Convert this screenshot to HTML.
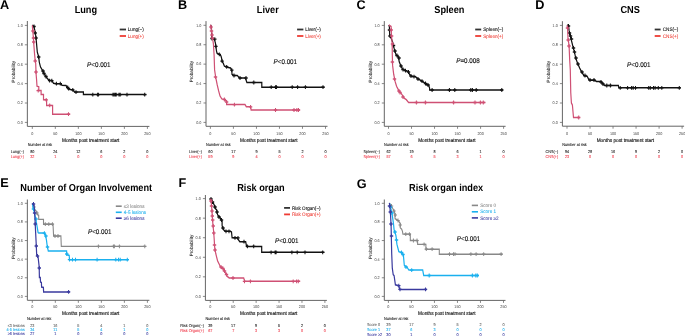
<!DOCTYPE html>
<html><head><meta charset="utf-8"><style>
html,body{margin:0;padding:0;background:#fff;width:685px;height:336px;overflow:hidden}
svg{display:block;will-change:transform;text-rendering:geometricPrecision;font-family:"Liberation Sans", sans-serif}
</style></head><body>
<svg width="685" height="336" viewBox="0 0 685 336">
<rect width="685" height="336" fill="#fff"/>
<path d="M27.35,21.00V126.40H149.40" stroke="#656565" stroke-width="1" fill="none"/>
<text transform="translate(22.75,123.75) scale(0.9091,1)" font-size="4.18" fill="#444" text-anchor="end" >0.0</text>
<text transform="translate(22.75,104.35) scale(0.9091,1)" font-size="4.18" fill="#444" text-anchor="end" >0.2</text>
<text transform="translate(22.75,84.95) scale(0.9091,1)" font-size="4.18" fill="#444" text-anchor="end" >0.4</text>
<text transform="translate(22.75,65.55) scale(0.9091,1)" font-size="4.18" fill="#444" text-anchor="end" >0.6</text>
<text transform="translate(22.75,46.15) scale(0.9091,1)" font-size="4.18" fill="#444" text-anchor="end" >0.8</text>
<text transform="translate(22.75,26.75) scale(0.9091,1)" font-size="4.18" fill="#444" text-anchor="end" >1.0</text>
<text transform="translate(32.30,134.60) scale(0.9091,1)" font-size="4.18" fill="#444" text-anchor="middle" >0</text>
<text transform="translate(55.32,134.60) scale(0.9091,1)" font-size="4.18" fill="#444" text-anchor="middle" >50</text>
<text transform="translate(78.34,134.60) scale(0.9091,1)" font-size="4.18" fill="#444" text-anchor="middle" >100</text>
<text transform="translate(101.36,134.60) scale(0.9091,1)" font-size="4.18" fill="#444" text-anchor="middle" >150</text>
<text transform="translate(124.38,134.60) scale(0.9091,1)" font-size="4.18" fill="#444" text-anchor="middle" >200</text>
<text transform="translate(147.40,134.60) scale(0.9091,1)" font-size="4.18" fill="#444" text-anchor="middle" >250</text>
<path d="M24.85,122.40H27.35M24.85,103.00H27.35M24.85,83.60H27.35M24.85,64.20H27.35M24.85,44.80H27.35M24.85,25.40H27.35M32.30,126.40V128.90M55.32,126.40V128.90M78.34,126.40V128.90M101.36,126.40V128.90M124.38,126.40V128.90M147.40,126.40V128.90" stroke="#6a6a6a" stroke-width="0.8" fill="none"/>
<text transform="translate(90.70,141.50) scale(0.9091,1)" font-size="5.19" fill="#111" text-anchor="middle" stroke="#111" stroke-width="0.143" >Months post treatment start</text>
<text x="0" y="0" font-size="4.6" fill="#222" stroke="#222" stroke-width="0.08" text-anchor="middle" transform="translate(14.75,71.70) rotate(-90)">Probability</text>
<text transform="translate(27.70,146.10) scale(0.9091,1)" font-size="4.15" fill="#111" stroke="#111" stroke-width="0.077" >Number at risk</text>
<text transform="translate(23.90,153.10) scale(0.9091,1)" font-size="4.18" fill="#222" text-anchor="end" stroke="#222" stroke-width="0.077" >Lung(−)</text>
<text transform="translate(32.30,153.10) scale(0.9091,1)" font-size="4.18" fill="#222" text-anchor="middle" stroke="#222" stroke-width="0.077" >80</text>
<text transform="translate(55.32,153.10) scale(0.9091,1)" font-size="4.18" fill="#222" text-anchor="middle" stroke="#222" stroke-width="0.077" >24</text>
<text transform="translate(78.34,153.10) scale(0.9091,1)" font-size="4.18" fill="#222" text-anchor="middle" stroke="#222" stroke-width="0.077" >12</text>
<text transform="translate(101.36,153.10) scale(0.9091,1)" font-size="4.18" fill="#222" text-anchor="middle" stroke="#222" stroke-width="0.077" >6</text>
<text transform="translate(124.38,153.10) scale(0.9091,1)" font-size="4.18" fill="#222" text-anchor="middle" stroke="#222" stroke-width="0.077" >2</text>
<text transform="translate(147.40,153.10) scale(0.9091,1)" font-size="4.18" fill="#222" text-anchor="middle" stroke="#222" stroke-width="0.077" >0</text>
<text transform="translate(23.90,157.60) scale(0.9091,1)" font-size="4.18" fill="#f03a4a" text-anchor="end" stroke="#f03a4a" stroke-width="0.077" >Lung(+)</text>
<text transform="translate(32.30,157.60) scale(0.9091,1)" font-size="4.18" fill="#f03a4a" text-anchor="middle" stroke="#f03a4a" stroke-width="0.077" >32</text>
<text transform="translate(55.32,157.60) scale(0.9091,1)" font-size="4.18" fill="#f03a4a" text-anchor="middle" stroke="#f03a4a" stroke-width="0.077" >1</text>
<text transform="translate(78.34,157.60) scale(0.9091,1)" font-size="4.18" fill="#f03a4a" text-anchor="middle" stroke="#f03a4a" stroke-width="0.077" >0</text>
<text transform="translate(101.36,157.60) scale(0.9091,1)" font-size="4.18" fill="#f03a4a" text-anchor="middle" stroke="#f03a4a" stroke-width="0.077" >0</text>
<text transform="translate(124.38,157.60) scale(0.9091,1)" font-size="4.18" fill="#f03a4a" text-anchor="middle" stroke="#f03a4a" stroke-width="0.077" >0</text>
<text transform="translate(147.40,157.60) scale(0.9091,1)" font-size="4.18" fill="#f03a4a" text-anchor="middle" stroke="#f03a4a" stroke-width="0.077" >0</text>
<line x1="119.70" y1="29.50" x2="126.00" y2="29.50" stroke="#333" stroke-width="1.8"/>
<text transform="translate(127.80,31.10) scale(0.9091,1)" font-size="5.06" fill="#222" stroke="#222" stroke-width="0.132" >Lung(−)</text>
<line x1="119.70" y1="36.00" x2="126.00" y2="36.00" stroke="#ee3b33" stroke-width="1.8"/>
<text transform="translate(127.80,37.60) scale(0.9091,1)" font-size="5.06" fill="#ee3b33" stroke="#ee3b33" stroke-width="0.066" >Lung(+)</text>
<polyline points="40.37,25.20 42.50,26.50 43.88,31.90 44.62,35.50 45.37,40.80 46.62,52.10 48.38,56.90 49.12,62.10 50.62,67.00 52.75,69.90 54.38,72.50 57.00,76.10 59.12,78.40 61.50,80.60 64.75,80.60 66.88,83.30 70.50,83.70 75.37,83.70 77.50,85.20 82.50,85.60 84.62,87.50 87.38,89.60 91.00,89.80 93.12,92.10 104.25,92.10 104.25,94.60 182.88,94.60" fill="none" stroke="#111" stroke-width="1.5" stroke-linejoin="miter" transform="scale(0.8,1)"/>
<path d="M42.50,24.60V28.40M40.37,26.50H44.62M44.00,31.10V34.90M41.88,33.00H46.13M45.00,36.10V39.90M42.87,38.00H47.12M48.38,55.10V58.90M46.25,57.00H50.50M53.75,69.10V72.90M51.62,71.00H55.88M55.00,71.60V75.40M52.87,73.50H57.12M57.50,74.60V78.40M55.37,76.50H59.62M62.00,78.70V82.50M59.87,80.60H64.12M64.75,78.70V82.50M62.62,80.60H66.88M70.50,81.80V85.60M68.37,83.70H72.62M75.37,81.80V85.60M73.25,83.70H77.50M84.62,85.60V89.40M82.50,87.50H86.75M85.75,86.70V90.50M83.62,88.60H87.87M91.00,87.90V91.70M88.87,89.80H93.12M95.00,90.20V94.00M92.87,92.10H97.12M116.00,92.70V96.50M113.87,94.60H118.12M122.00,92.70V96.50M119.87,94.60H124.12M123.00,92.70V96.50M120.88,94.60H125.12M141.25,92.70V96.50M139.12,94.60H143.38M142.75,92.70V96.50M140.62,94.60H144.88M144.25,92.70V96.50M142.12,94.60H146.38M145.25,92.70V96.50M143.12,94.60H147.38M148.75,92.70V96.50M146.62,94.60H150.88M150.25,92.70V96.50M148.12,94.60H152.38M158.75,92.70V96.50M156.62,94.60H160.87M180.87,92.70V96.50M178.75,94.60H183.00" stroke="#111" stroke-width="1.3" fill="none" transform="scale(0.8,1)"/>
<polyline points="40.37,25.40 41.25,33.00 42.12,42.60 43.12,53.30 43.88,60.00 44.62,63.30 45.12,74.00 45.75,80.00 46.25,86.20 48.50,86.80 48.50,90.60 51.38,90.60 51.38,94.50 54.38,94.50 54.38,99.80 58.25,99.80 58.25,105.40 65.75,105.40 65.75,114.15 87.62,114.15" fill="none" stroke="#cf5074" stroke-width="1.5" stroke-linejoin="miter" transform="scale(0.8,1)"/>
<path d="M41.25,29.10V32.90M39.12,31.00H43.38M41.88,36.10V39.90M39.75,38.00H44.00M42.12,40.10V43.90M40.00,42.00H44.25M44.00,59.10V62.90M41.88,61.00H46.13M45.00,70.10V73.90M42.87,72.00H47.12M47.75,88.70V92.50M45.62,90.60H49.88M57.75,97.90V101.70M55.62,99.80H59.88M62.12,103.50V107.30M60.00,105.40H64.25M85.62,112.25V116.05M83.50,114.15H87.75" stroke="#cf5074" stroke-width="1.3" fill="none" transform="scale(0.8,1)"/>
<text transform="translate(0.00,9.20) scale(1.0000,1)" font-size="12.70" fill="#000" font-weight="bold" >A</text>
<text transform="translate(85.85,12.70) scale(0.9091,1)" font-size="10.12" fill="#000" text-anchor="middle" font-weight="bold" >Lung</text>
<text transform="translate(87.10,66.80) scale(0.9091,1)" font-size="6.88" fill="#111" stroke="#111" stroke-width="0.13"><tspan font-style="italic">P</tspan>&lt;0.001</text>
<path d="M206.00,21.10V126.30H327.50" stroke="#656565" stroke-width="1" fill="none"/>
<text transform="translate(201.40,123.75) scale(0.9091,1)" font-size="4.18" fill="#444" text-anchor="end" >0.0</text>
<text transform="translate(201.40,104.33) scale(0.9091,1)" font-size="4.18" fill="#444" text-anchor="end" >0.2</text>
<text transform="translate(201.40,84.91) scale(0.9091,1)" font-size="4.18" fill="#444" text-anchor="end" >0.4</text>
<text transform="translate(201.40,65.49) scale(0.9091,1)" font-size="4.18" fill="#444" text-anchor="end" >0.6</text>
<text transform="translate(201.40,46.07) scale(0.9091,1)" font-size="4.18" fill="#444" text-anchor="end" >0.8</text>
<text transform="translate(201.40,26.65) scale(0.9091,1)" font-size="4.18" fill="#444" text-anchor="end" >1.0</text>
<text transform="translate(210.40,134.60) scale(0.9091,1)" font-size="4.18" fill="#444" text-anchor="middle" >0</text>
<text transform="translate(233.42,134.60) scale(0.9091,1)" font-size="4.18" fill="#444" text-anchor="middle" >50</text>
<text transform="translate(256.44,134.60) scale(0.9091,1)" font-size="4.18" fill="#444" text-anchor="middle" >100</text>
<text transform="translate(279.46,134.60) scale(0.9091,1)" font-size="4.18" fill="#444" text-anchor="middle" >150</text>
<text transform="translate(302.48,134.60) scale(0.9091,1)" font-size="4.18" fill="#444" text-anchor="middle" >200</text>
<text transform="translate(325.50,134.60) scale(0.9091,1)" font-size="4.18" fill="#444" text-anchor="middle" >250</text>
<path d="M203.50,122.40H206.00M203.50,102.98H206.00M203.50,83.56H206.00M203.50,64.14H206.00M203.50,44.72H206.00M203.50,25.30H206.00M210.40,126.30V128.80M233.42,126.30V128.80M256.44,126.30V128.80M279.46,126.30V128.80M302.48,126.30V128.80M325.50,126.30V128.80" stroke="#6a6a6a" stroke-width="0.8" fill="none"/>
<text transform="translate(268.80,141.50) scale(0.9091,1)" font-size="5.19" fill="#111" text-anchor="middle" stroke="#111" stroke-width="0.143" >Months post treatment start</text>
<text x="0" y="0" font-size="4.6" fill="#222" stroke="#222" stroke-width="0.08" text-anchor="middle" transform="translate(193.40,71.65) rotate(-90)">Probability</text>
<text transform="translate(206.10,146.10) scale(0.9091,1)" font-size="4.15" fill="#111" stroke="#111" stroke-width="0.077" >Number at risk</text>
<text transform="translate(201.90,153.10) scale(0.9091,1)" font-size="4.18" fill="#222" text-anchor="end" stroke="#222" stroke-width="0.077" >Liver(−)</text>
<text transform="translate(210.40,153.10) scale(0.9091,1)" font-size="4.18" fill="#222" text-anchor="middle" stroke="#222" stroke-width="0.077" >60</text>
<text transform="translate(233.42,153.10) scale(0.9091,1)" font-size="4.18" fill="#222" text-anchor="middle" stroke="#222" stroke-width="0.077" >17</text>
<text transform="translate(256.44,153.10) scale(0.9091,1)" font-size="4.18" fill="#222" text-anchor="middle" stroke="#222" stroke-width="0.077" >9</text>
<text transform="translate(279.46,153.10) scale(0.9091,1)" font-size="4.18" fill="#222" text-anchor="middle" stroke="#222" stroke-width="0.077" >5</text>
<text transform="translate(302.48,153.10) scale(0.9091,1)" font-size="4.18" fill="#222" text-anchor="middle" stroke="#222" stroke-width="0.077" >2</text>
<text transform="translate(325.50,153.10) scale(0.9091,1)" font-size="4.18" fill="#222" text-anchor="middle" stroke="#222" stroke-width="0.077" >0</text>
<text transform="translate(201.90,157.60) scale(0.9091,1)" font-size="4.18" fill="#f03a4a" text-anchor="end" stroke="#f03a4a" stroke-width="0.077" >Liver(+)</text>
<text transform="translate(210.40,157.60) scale(0.9091,1)" font-size="4.18" fill="#f03a4a" text-anchor="middle" stroke="#f03a4a" stroke-width="0.077" >59</text>
<text transform="translate(233.42,157.60) scale(0.9091,1)" font-size="4.18" fill="#f03a4a" text-anchor="middle" stroke="#f03a4a" stroke-width="0.077" >9</text>
<text transform="translate(256.44,157.60) scale(0.9091,1)" font-size="4.18" fill="#f03a4a" text-anchor="middle" stroke="#f03a4a" stroke-width="0.077" >4</text>
<text transform="translate(279.46,157.60) scale(0.9091,1)" font-size="4.18" fill="#f03a4a" text-anchor="middle" stroke="#f03a4a" stroke-width="0.077" >0</text>
<text transform="translate(302.48,157.60) scale(0.9091,1)" font-size="4.18" fill="#f03a4a" text-anchor="middle" stroke="#f03a4a" stroke-width="0.077" >0</text>
<text transform="translate(325.50,157.60) scale(0.9091,1)" font-size="4.18" fill="#f03a4a" text-anchor="middle" stroke="#f03a4a" stroke-width="0.077" >0</text>
<line x1="297.10" y1="29.50" x2="303.40" y2="29.50" stroke="#333" stroke-width="1.8"/>
<text transform="translate(305.20,31.10) scale(0.9091,1)" font-size="5.06" fill="#222" stroke="#222" stroke-width="0.132" >Liver(−)</text>
<line x1="297.10" y1="36.00" x2="303.40" y2="36.00" stroke="#ee3b33" stroke-width="1.8"/>
<text transform="translate(305.20,37.60) scale(0.9091,1)" font-size="5.06" fill="#ee3b33" stroke="#ee3b33" stroke-width="0.066" >Liver(+)</text>
<polyline points="263.12,24.80 264.25,26.50 264.62,37.90 267.88,39.00 269.25,43.00 269.88,46.40 270.62,51.00 271.25,53.20 274.12,54.40 276.25,56.00 277.00,58.30 277.62,61.10 279.12,63.40 280.50,66.20 283.37,66.80 285.50,67.40 288.25,68.00 289.75,70.20 290.00,74.30 291.88,75.50 296.62,75.50 299.38,78.10 306.75,78.10 308.62,82.50 327.25,82.50 327.25,87.20 405.62,87.20" fill="none" stroke="#111" stroke-width="1.5" stroke-linejoin="miter" transform="scale(0.8,1)"/>
<path d="M265.00,36.60V40.40M262.88,38.50H267.12M268.50,37.20V41.00M266.38,39.10H270.62M269.88,44.50V48.30M267.75,46.40H272.00M274.12,52.50V56.30M272.00,54.40H276.25M277.62,59.20V63.00M275.50,61.10H279.75M283.37,64.90V68.70M281.25,66.80H285.50M289.75,68.30V72.10M287.62,70.20H291.88M292.50,73.60V77.40M290.38,75.50H294.62M300.00,76.10V79.90M297.88,78.00H302.12M307.50,76.10V79.90M305.38,78.00H309.62M317.25,80.60V84.40M315.12,82.50H319.38M339.00,85.30V89.10M336.88,87.20H341.12M344.38,85.30V89.10M342.25,87.20H346.50M345.62,85.30V89.10M343.50,87.20H347.75M365.25,85.30V89.10M363.12,87.20H367.37M372.00,85.30V89.10M369.88,87.20H374.12M381.75,85.30V89.10M379.62,87.20H383.87M403.75,85.30V89.10M401.62,87.20H405.87" stroke="#111" stroke-width="1.3" fill="none" transform="scale(0.8,1)"/>
<polyline points="263.12,24.80 264.25,29.50 265.62,37.90 266.75,43.80 267.62,55.00 268.25,69.90 269.62,77.30 271.50,84.80 273.25,90.70 275.00,95.90 277.25,98.90 280.50,99.40 283.25,101.10 283.25,104.60 306.25,104.60 307.88,106.80 313.25,106.80 313.88,110.00 375.00,110.00" fill="none" stroke="#cf5074" stroke-width="1.5" stroke-linejoin="miter" transform="scale(0.8,1)"/>
<path d="M263.75,25.10V28.90M261.62,27.00H265.87M264.38,29.10V32.90M262.25,31.00H266.50M265.00,33.10V36.90M262.88,35.00H267.12M265.62,36.10V39.90M263.50,38.00H267.75M269.38,75.10V78.90M267.25,77.00H271.50M280.50,97.60V101.40M278.38,99.50H282.62M283.25,100.10V103.90M281.12,102.00H285.37M293.00,102.70V106.50M290.88,104.60H295.12M313.25,104.90V108.70M311.12,106.80H315.37M344.38,108.10V111.90M342.25,110.00H346.50M367.50,108.10V111.90M365.38,110.00H369.62M371.12,108.10V111.90M369.00,110.00H373.25M373.12,108.10V111.90M371.00,110.00H375.25" stroke="#cf5074" stroke-width="1.3" fill="none" transform="scale(0.8,1)"/>
<text transform="translate(177.90,9.20) scale(1.0000,1)" font-size="12.70" fill="#000" font-weight="bold" >B</text>
<text transform="translate(267.80,12.70) scale(0.9091,1)" font-size="10.12" fill="#000" text-anchor="middle" font-weight="bold" >Liver</text>
<text transform="translate(273.60,63.80) scale(0.9091,1)" font-size="6.88" fill="#111" stroke="#111" stroke-width="0.13"><tspan font-style="italic">P</tspan>&lt;0.001</text>
<path d="M384.30,21.10V126.30H505.60" stroke="#656565" stroke-width="1" fill="none"/>
<text transform="translate(379.70,123.75) scale(0.9091,1)" font-size="4.18" fill="#444" text-anchor="end" >0.0</text>
<text transform="translate(379.70,104.35) scale(0.9091,1)" font-size="4.18" fill="#444" text-anchor="end" >0.2</text>
<text transform="translate(379.70,84.95) scale(0.9091,1)" font-size="4.18" fill="#444" text-anchor="end" >0.4</text>
<text transform="translate(379.70,65.55) scale(0.9091,1)" font-size="4.18" fill="#444" text-anchor="end" >0.6</text>
<text transform="translate(379.70,46.15) scale(0.9091,1)" font-size="4.18" fill="#444" text-anchor="end" >0.8</text>
<text transform="translate(379.70,26.75) scale(0.9091,1)" font-size="4.18" fill="#444" text-anchor="end" >1.0</text>
<text transform="translate(388.50,134.60) scale(0.9091,1)" font-size="4.18" fill="#444" text-anchor="middle" >0</text>
<text transform="translate(411.52,134.60) scale(0.9091,1)" font-size="4.18" fill="#444" text-anchor="middle" >50</text>
<text transform="translate(434.54,134.60) scale(0.9091,1)" font-size="4.18" fill="#444" text-anchor="middle" >100</text>
<text transform="translate(457.56,134.60) scale(0.9091,1)" font-size="4.18" fill="#444" text-anchor="middle" >150</text>
<text transform="translate(480.58,134.60) scale(0.9091,1)" font-size="4.18" fill="#444" text-anchor="middle" >200</text>
<text transform="translate(503.60,134.60) scale(0.9091,1)" font-size="4.18" fill="#444" text-anchor="middle" >250</text>
<path d="M381.80,122.40H384.30M381.80,103.00H384.30M381.80,83.60H384.30M381.80,64.20H384.30M381.80,44.80H384.30M381.80,25.40H384.30M388.50,126.30V128.80M411.52,126.30V128.80M434.54,126.30V128.80M457.56,126.30V128.80M480.58,126.30V128.80M503.60,126.30V128.80" stroke="#6a6a6a" stroke-width="0.8" fill="none"/>
<text transform="translate(446.90,141.50) scale(0.9091,1)" font-size="5.19" fill="#111" text-anchor="middle" stroke="#111" stroke-width="0.143" >Months post treatment start</text>
<text x="0" y="0" font-size="4.6" fill="#222" stroke="#222" stroke-width="0.08" text-anchor="middle" transform="translate(371.70,71.70) rotate(-90)">Probability</text>
<text transform="translate(384.10,146.10) scale(0.9091,1)" font-size="4.15" fill="#111" stroke="#111" stroke-width="0.077" >Number at risk</text>
<text transform="translate(380.00,153.10) scale(0.9091,1)" font-size="4.18" fill="#222" text-anchor="end" stroke="#222" stroke-width="0.077" >Spleen(−)</text>
<text transform="translate(388.50,153.10) scale(0.9091,1)" font-size="4.18" fill="#222" text-anchor="middle" stroke="#222" stroke-width="0.077" >62</text>
<text transform="translate(411.52,153.10) scale(0.9091,1)" font-size="4.18" fill="#222" text-anchor="middle" stroke="#222" stroke-width="0.077" >19</text>
<text transform="translate(434.54,153.10) scale(0.9091,1)" font-size="4.18" fill="#222" text-anchor="middle" stroke="#222" stroke-width="0.077" >8</text>
<text transform="translate(457.56,153.10) scale(0.9091,1)" font-size="4.18" fill="#222" text-anchor="middle" stroke="#222" stroke-width="0.077" >6</text>
<text transform="translate(480.58,153.10) scale(0.9091,1)" font-size="4.18" fill="#222" text-anchor="middle" stroke="#222" stroke-width="0.077" >1</text>
<text transform="translate(503.60,153.10) scale(0.9091,1)" font-size="4.18" fill="#222" text-anchor="middle" stroke="#222" stroke-width="0.077" >0</text>
<text transform="translate(380.00,157.60) scale(0.9091,1)" font-size="4.18" fill="#f03a4a" text-anchor="end" stroke="#f03a4a" stroke-width="0.077" >Spleen(+)</text>
<text transform="translate(388.50,157.60) scale(0.9091,1)" font-size="4.18" fill="#f03a4a" text-anchor="middle" stroke="#f03a4a" stroke-width="0.077" >57</text>
<text transform="translate(411.52,157.60) scale(0.9091,1)" font-size="4.18" fill="#f03a4a" text-anchor="middle" stroke="#f03a4a" stroke-width="0.077" >6</text>
<text transform="translate(434.54,157.60) scale(0.9091,1)" font-size="4.18" fill="#f03a4a" text-anchor="middle" stroke="#f03a4a" stroke-width="0.077" >5</text>
<text transform="translate(457.56,157.60) scale(0.9091,1)" font-size="4.18" fill="#f03a4a" text-anchor="middle" stroke="#f03a4a" stroke-width="0.077" >3</text>
<text transform="translate(480.58,157.60) scale(0.9091,1)" font-size="4.18" fill="#f03a4a" text-anchor="middle" stroke="#f03a4a" stroke-width="0.077" >1</text>
<text transform="translate(503.60,157.60) scale(0.9091,1)" font-size="4.18" fill="#f03a4a" text-anchor="middle" stroke="#f03a4a" stroke-width="0.077" >0</text>
<line x1="475.20" y1="29.50" x2="481.20" y2="29.50" stroke="#333" stroke-width="1.8"/>
<text transform="translate(483.20,31.10) scale(0.9091,1)" font-size="5.06" fill="#222" stroke="#222" stroke-width="0.132" >Spleen(−)</text>
<line x1="475.20" y1="36.00" x2="481.20" y2="36.00" stroke="#ee3b33" stroke-width="1.8"/>
<text transform="translate(483.20,37.60) scale(0.9091,1)" font-size="5.06" fill="#ee3b33" stroke="#ee3b33" stroke-width="0.066" >Spleen(+)</text>
<polyline points="486.00,25.00 486.75,27.10 487.12,35.50 488.75,38.00 491.00,42.40 491.88,45.60 493.00,49.60 495.00,54.50 498.00,56.90 499.00,61.70 501.00,65.70 503.00,68.90 506.12,70.50 510.00,71.30 512.12,74.60 515.12,76.60 519.12,76.60 522.12,78.60 527.12,81.00 530.25,82.60 532.88,84.50 535.75,85.00 537.00,88.20 537.00,90.00 628.75,90.00" fill="none" stroke="#111" stroke-width="1.5" stroke-linejoin="miter" transform="scale(0.8,1)"/>
<path d="M486.88,28.10V31.90M484.75,30.00H489.00M487.50,34.10V37.90M485.38,36.00H489.62M491.88,43.60V47.40M489.75,45.50H494.00M493.75,49.10V52.90M491.62,51.00H495.87M496.25,53.60V57.40M494.12,55.50H498.37M498.75,56.10V59.90M496.62,58.00H500.87M501.25,64.10V67.90M499.12,66.00H503.37M503.75,67.60V71.40M501.62,69.50H505.87M506.88,68.80V72.60M504.75,70.70H509.00M510.62,70.10V73.90M508.50,72.00H512.75M513.75,74.10V77.90M511.62,76.00H515.88M517.50,74.70V78.50M515.38,76.60H519.62M522.50,77.10V80.90M520.38,79.00H524.62M527.50,79.30V83.10M525.38,81.20H529.62M531.88,81.60V85.40M529.75,83.50H534.00M535.00,83.10V86.90M532.88,85.00H537.12M540.12,88.10V91.90M538.00,90.00H542.25M561.75,88.10V91.90M559.62,90.00H563.87M568.50,88.10V91.90M566.38,90.00H570.62M588.50,88.10V91.90M586.38,90.00H590.62M590.50,88.10V91.90M588.38,90.00H592.62M595.25,88.10V91.90M593.12,90.00H597.37M627.25,88.10V91.90M625.12,90.00H629.38" stroke="#111" stroke-width="1.3" fill="none" transform="scale(0.8,1)"/>
<polyline points="486.00,25.00 488.88,26.50 489.25,34.30 490.25,44.00 490.38,55.00 490.75,65.40 492.12,74.30 494.00,81.80 495.75,86.30 498.62,90.70 502.37,94.40 505.12,98.20 507.88,99.60 510.75,102.50 606.88,102.50" fill="none" stroke="#cf5074" stroke-width="1.5" stroke-linejoin="miter" transform="scale(0.8,1)"/>
<path d="M489.00,28.10V31.90M486.88,30.00H491.12M489.50,34.10V37.90M487.38,36.00H491.62M490.62,42.10V45.90M488.50,44.00H492.75M490.50,60.10V63.90M488.37,62.00H492.62M493.12,77.10V80.90M491.00,79.00H495.25M498.75,89.10V92.90M496.62,91.00H500.87M500.00,90.60V94.40M497.88,92.50H502.12M503.75,95.10V98.90M501.62,97.00H505.87M520.50,100.60V104.40M518.38,102.50H522.62M531.75,100.60V104.40M529.62,102.50H533.87M567.00,100.60V104.40M564.88,102.50H569.12M593.75,100.60V104.40M591.62,102.50H595.88M600.50,100.60V104.40M598.38,102.50H602.62M604.12,100.60V104.40M602.00,102.50H606.25" stroke="#cf5074" stroke-width="1.3" fill="none" transform="scale(0.8,1)"/>
<text transform="translate(356.60,9.20) scale(1.0000,1)" font-size="12.70" fill="#000" font-weight="bold" >C</text>
<text transform="translate(449.35,12.70) scale(0.9091,1)" font-size="10.12" fill="#000" text-anchor="middle" font-weight="bold" >Spleen</text>
<text transform="translate(456.25,62.60) scale(0.9091,1)" font-size="6.88" fill="#111" stroke="#111" stroke-width="0.13"><tspan font-style="italic">P</tspan>=0.008</text>
<path d="M562.40,21.20V126.20H684.10" stroke="#656565" stroke-width="1" fill="none"/>
<text transform="translate(557.80,123.75) scale(0.9091,1)" font-size="4.18" fill="#444" text-anchor="end" >0.0</text>
<text transform="translate(557.80,104.35) scale(0.9091,1)" font-size="4.18" fill="#444" text-anchor="end" >0.2</text>
<text transform="translate(557.80,84.95) scale(0.9091,1)" font-size="4.18" fill="#444" text-anchor="end" >0.4</text>
<text transform="translate(557.80,65.55) scale(0.9091,1)" font-size="4.18" fill="#444" text-anchor="end" >0.6</text>
<text transform="translate(557.80,46.15) scale(0.9091,1)" font-size="4.18" fill="#444" text-anchor="end" >0.8</text>
<text transform="translate(557.80,26.75) scale(0.9091,1)" font-size="4.18" fill="#444" text-anchor="end" >1.0</text>
<text transform="translate(567.00,134.60) scale(0.9091,1)" font-size="4.18" fill="#444" text-anchor="middle" >0</text>
<text transform="translate(590.02,134.60) scale(0.9091,1)" font-size="4.18" fill="#444" text-anchor="middle" >50</text>
<text transform="translate(613.04,134.60) scale(0.9091,1)" font-size="4.18" fill="#444" text-anchor="middle" >100</text>
<text transform="translate(636.06,134.60) scale(0.9091,1)" font-size="4.18" fill="#444" text-anchor="middle" >150</text>
<text transform="translate(659.08,134.60) scale(0.9091,1)" font-size="4.18" fill="#444" text-anchor="middle" >200</text>
<text transform="translate(682.10,134.60) scale(0.9091,1)" font-size="4.18" fill="#444" text-anchor="middle" >250</text>
<path d="M559.90,122.40H562.40M559.90,103.00H562.40M559.90,83.60H562.40M559.90,64.20H562.40M559.90,44.80H562.40M559.90,25.40H562.40M567.00,126.20V128.70M590.02,126.20V128.70M613.04,126.20V128.70M636.06,126.20V128.70M659.08,126.20V128.70M682.10,126.20V128.70" stroke="#6a6a6a" stroke-width="0.8" fill="none"/>
<text transform="translate(625.40,141.50) scale(0.9091,1)" font-size="5.19" fill="#111" text-anchor="middle" stroke="#111" stroke-width="0.143" >Months post treatment start</text>
<text x="0" y="0" font-size="4.6" fill="#222" stroke="#222" stroke-width="0.08" text-anchor="middle" transform="translate(549.80,71.70) rotate(-90)">Probability</text>
<text transform="translate(562.20,146.10) scale(0.9091,1)" font-size="4.15" fill="#111" stroke="#111" stroke-width="0.077" >Number at risk</text>
<text transform="translate(558.30,153.10) scale(0.9091,1)" font-size="4.18" fill="#222" text-anchor="end" stroke="#222" stroke-width="0.077" >CNS(−)</text>
<text transform="translate(567.00,153.10) scale(0.9091,1)" font-size="4.18" fill="#222" text-anchor="middle" stroke="#222" stroke-width="0.077" >94</text>
<text transform="translate(590.02,153.10) scale(0.9091,1)" font-size="4.18" fill="#222" text-anchor="middle" stroke="#222" stroke-width="0.077" >28</text>
<text transform="translate(613.04,153.10) scale(0.9091,1)" font-size="4.18" fill="#222" text-anchor="middle" stroke="#222" stroke-width="0.077" >16</text>
<text transform="translate(636.06,153.10) scale(0.9091,1)" font-size="4.18" fill="#222" text-anchor="middle" stroke="#222" stroke-width="0.077" >9</text>
<text transform="translate(659.08,153.10) scale(0.9091,1)" font-size="4.18" fill="#222" text-anchor="middle" stroke="#222" stroke-width="0.077" >2</text>
<text transform="translate(682.10,153.10) scale(0.9091,1)" font-size="4.18" fill="#222" text-anchor="middle" stroke="#222" stroke-width="0.077" >0</text>
<text transform="translate(558.30,157.60) scale(0.9091,1)" font-size="4.18" fill="#f03a4a" text-anchor="end" stroke="#f03a4a" stroke-width="0.077" >CNS(+)</text>
<text transform="translate(567.00,157.60) scale(0.9091,1)" font-size="4.18" fill="#f03a4a" text-anchor="middle" stroke="#f03a4a" stroke-width="0.077" >23</text>
<text transform="translate(590.02,157.60) scale(0.9091,1)" font-size="4.18" fill="#f03a4a" text-anchor="middle" stroke="#f03a4a" stroke-width="0.077" >0</text>
<text transform="translate(613.04,157.60) scale(0.9091,1)" font-size="4.18" fill="#f03a4a" text-anchor="middle" stroke="#f03a4a" stroke-width="0.077" >0</text>
<text transform="translate(636.06,157.60) scale(0.9091,1)" font-size="4.18" fill="#f03a4a" text-anchor="middle" stroke="#f03a4a" stroke-width="0.077" >0</text>
<text transform="translate(659.08,157.60) scale(0.9091,1)" font-size="4.18" fill="#f03a4a" text-anchor="middle" stroke="#f03a4a" stroke-width="0.077" >0</text>
<text transform="translate(682.10,157.60) scale(0.9091,1)" font-size="4.18" fill="#f03a4a" text-anchor="middle" stroke="#f03a4a" stroke-width="0.077" >0</text>
<line x1="654.70" y1="29.50" x2="660.60" y2="29.50" stroke="#333" stroke-width="1.8"/>
<text transform="translate(662.80,31.10) scale(0.9091,1)" font-size="5.06" fill="#222" stroke="#222" stroke-width="0.132" >CNS(−)</text>
<line x1="654.70" y1="36.00" x2="660.60" y2="36.00" stroke="#ee3b33" stroke-width="1.8"/>
<text transform="translate(662.80,37.60) scale(0.9091,1)" font-size="5.06" fill="#ee3b33" stroke="#ee3b33" stroke-width="0.066" >CNS(+)</text>
<polyline points="709.25,24.80 710.62,25.40 711.38,30.70 712.87,35.50 714.38,40.80 716.62,48.00 718.12,52.10 719.62,58.10 722.00,63.30 724.62,68.10 726.62,71.25 730.00,75.70 733.88,76.20 736.12,79.70 739.50,80.20 742.87,80.00 745.62,81.50 751.25,81.50 755.75,85.50 773.00,85.50 773.50,87.80 850.75,87.80" fill="none" stroke="#111" stroke-width="1.5" stroke-linejoin="miter" transform="scale(0.8,1)"/>
<path d="M710.62,24.10V27.90M708.50,26.00H712.75M711.88,31.10V34.90M709.75,33.00H714.00M713.12,34.10V37.90M711.00,36.00H715.25M714.38,37.10V40.90M712.25,39.00H716.50M716.88,46.10V49.90M714.75,48.00H719.00M718.12,50.10V53.90M716.00,52.00H720.25M720.00,56.10V59.90M717.87,58.00H722.12M722.50,62.10V65.90M720.37,64.00H724.62M727.50,70.10V73.90M725.37,72.00H729.62M731.25,73.60V77.40M729.12,75.50H733.38M737.50,78.10V81.90M735.37,80.00H739.62M742.50,78.10V81.90M740.37,80.00H744.62M751.25,80.10V83.90M749.12,82.00H753.38M753.75,82.10V85.90M751.62,84.00H755.88M758.50,83.60V87.40M756.37,85.50H760.62M763.00,83.60V87.40M760.87,85.50H765.12M775.25,85.90V89.70M773.12,87.80H777.38M784.50,85.90V89.70M782.37,87.80H786.62M789.50,85.90V89.70M787.37,87.80H791.62M791.50,85.90V89.70M789.38,87.80H793.63M794.38,85.90V89.70M792.25,87.80H796.50M810.88,85.90V89.70M808.75,87.80H813.00M812.87,85.90V89.70M810.75,87.80H815.00M816.88,85.90V89.70M814.75,87.80H819.00M818.88,85.90V89.70M816.75,87.80H821.00M822.87,85.90V89.70M820.75,87.80H825.00M827.25,85.90V89.70M825.12,87.80H829.38M849.12,85.90V89.70M847.00,87.80H851.25" stroke="#111" stroke-width="1.3" fill="none" transform="scale(0.8,1)"/>
<polyline points="709.25,25.40 710.00,37.90 711.38,46.20 712.12,60.00 712.87,70.00 713.44,92.50 714.25,102.90 715.50,105.00 716.88,117.50 724.62,117.50" fill="none" stroke="#cf5074" stroke-width="1.5" stroke-linejoin="miter" transform="scale(0.8,1)"/>
<path d="M709.38,26.10V29.90M707.25,28.00H711.50M710.25,38.10V41.90M708.12,40.00H712.38M711.25,44.10V47.90M709.12,46.00H713.38M723.38,115.60V119.40M721.25,117.50H725.50" stroke="#cf5074" stroke-width="1.3" fill="none" transform="scale(0.8,1)"/>
<text transform="translate(535.30,8.90) scale(1.0000,1)" font-size="12.70" fill="#000" font-weight="bold" >D</text>
<text transform="translate(630.10,12.70) scale(0.9091,1)" font-size="10.12" fill="#000" text-anchor="middle" font-weight="bold" >CNS</text>
<text transform="translate(627.10,66.60) scale(0.9091,1)" font-size="6.88" fill="#111" stroke="#111" stroke-width="0.13"><tspan font-style="italic">P</tspan>&lt;0.001</text>
<path d="M27.35,199.50V300.30H149.40" stroke="#656565" stroke-width="1" fill="none"/>
<text transform="translate(22.75,297.75) scale(0.9091,1)" font-size="4.18" fill="#444" text-anchor="end" >0.0</text>
<text transform="translate(22.75,279.13) scale(0.9091,1)" font-size="4.18" fill="#444" text-anchor="end" >0.2</text>
<text transform="translate(22.75,260.51) scale(0.9091,1)" font-size="4.18" fill="#444" text-anchor="end" >0.4</text>
<text transform="translate(22.75,241.89) scale(0.9091,1)" font-size="4.18" fill="#444" text-anchor="end" >0.6</text>
<text transform="translate(22.75,223.27) scale(0.9091,1)" font-size="4.18" fill="#444" text-anchor="end" >0.8</text>
<text transform="translate(22.75,204.65) scale(0.9091,1)" font-size="4.18" fill="#444" text-anchor="end" >1.0</text>
<text transform="translate(32.30,308.15) scale(0.9091,1)" font-size="4.18" fill="#444" text-anchor="middle" >0</text>
<text transform="translate(55.32,308.15) scale(0.9091,1)" font-size="4.18" fill="#444" text-anchor="middle" >50</text>
<text transform="translate(78.34,308.15) scale(0.9091,1)" font-size="4.18" fill="#444" text-anchor="middle" >100</text>
<text transform="translate(101.36,308.15) scale(0.9091,1)" font-size="4.18" fill="#444" text-anchor="middle" >150</text>
<text transform="translate(124.38,308.15) scale(0.9091,1)" font-size="4.18" fill="#444" text-anchor="middle" >200</text>
<text transform="translate(147.40,308.15) scale(0.9091,1)" font-size="4.18" fill="#444" text-anchor="middle" >250</text>
<path d="M24.85,296.40H27.35M24.85,277.78H27.35M24.85,259.16H27.35M24.85,240.54H27.35M24.85,221.92H27.35M24.85,203.30H27.35M32.30,300.30V302.80M55.32,300.30V302.80M78.34,300.30V302.80M101.36,300.30V302.80M124.38,300.30V302.80M147.40,300.30V302.80" stroke="#6a6a6a" stroke-width="0.8" fill="none"/>
<text transform="translate(90.70,314.80) scale(0.9091,1)" font-size="5.19" fill="#111" text-anchor="middle" stroke="#111" stroke-width="0.143" >Months post treatment start</text>
<text x="0" y="0" font-size="4.6" fill="#222" stroke="#222" stroke-width="0.08" text-anchor="middle" transform="translate(14.75,248.25) rotate(-90)">Probability</text>
<text transform="translate(26.90,319.90) scale(0.9091,1)" font-size="4.15" fill="#111" stroke="#111" stroke-width="0.077" >Number at risk</text>
<text transform="translate(24.70,326.70) scale(0.9091,1)" font-size="4.18" fill="#666" text-anchor="end" stroke="#666" stroke-width="0.077" >≤3 lesions</text>
<text transform="translate(32.30,326.70) scale(0.9091,1)" font-size="4.18" fill="#666" text-anchor="middle" stroke="#666" stroke-width="0.077" >23</text>
<text transform="translate(55.32,326.70) scale(0.9091,1)" font-size="4.18" fill="#666" text-anchor="middle" stroke="#666" stroke-width="0.077" >16</text>
<text transform="translate(78.34,326.70) scale(0.9091,1)" font-size="4.18" fill="#666" text-anchor="middle" stroke="#666" stroke-width="0.077" >5</text>
<text transform="translate(101.36,326.70) scale(0.9091,1)" font-size="4.18" fill="#666" text-anchor="middle" stroke="#666" stroke-width="0.077" >4</text>
<text transform="translate(124.38,326.70) scale(0.9091,1)" font-size="4.18" fill="#666" text-anchor="middle" stroke="#666" stroke-width="0.077" >1</text>
<text transform="translate(147.40,326.70) scale(0.9091,1)" font-size="4.18" fill="#666" text-anchor="middle" stroke="#666" stroke-width="0.077" >0</text>
<text transform="translate(24.70,330.80) scale(0.9091,1)" font-size="4.18" fill="#1ab0ee" text-anchor="end" stroke="#1ab0ee" stroke-width="0.077" >4-5 lesions</text>
<text transform="translate(32.30,330.80) scale(0.9091,1)" font-size="4.18" fill="#1ab0ee" text-anchor="middle" stroke="#1ab0ee" stroke-width="0.077" >34</text>
<text transform="translate(55.32,330.80) scale(0.9091,1)" font-size="4.18" fill="#1ab0ee" text-anchor="middle" stroke="#1ab0ee" stroke-width="0.077" >11</text>
<text transform="translate(78.34,330.80) scale(0.9091,1)" font-size="4.18" fill="#1ab0ee" text-anchor="middle" stroke="#1ab0ee" stroke-width="0.077" >5</text>
<text transform="translate(101.36,330.80) scale(0.9091,1)" font-size="4.18" fill="#1ab0ee" text-anchor="middle" stroke="#1ab0ee" stroke-width="0.077" >4</text>
<text transform="translate(124.38,330.80) scale(0.9091,1)" font-size="4.18" fill="#1ab0ee" text-anchor="middle" stroke="#1ab0ee" stroke-width="0.077" >1</text>
<text transform="translate(147.40,330.80) scale(0.9091,1)" font-size="4.18" fill="#1ab0ee" text-anchor="middle" stroke="#1ab0ee" stroke-width="0.077" >0</text>
<text transform="translate(24.70,335.30) scale(0.9091,1)" font-size="4.18" fill="#3a3a9e" text-anchor="end" stroke="#3a3a9e" stroke-width="0.077" >≥6 lesions</text>
<text transform="translate(32.30,335.30) scale(0.9091,1)" font-size="4.18" fill="#3a3a9e" text-anchor="middle" stroke="#3a3a9e" stroke-width="0.077" >27</text>
<text transform="translate(55.32,335.30) scale(0.9091,1)" font-size="4.18" fill="#3a3a9e" text-anchor="middle" stroke="#3a3a9e" stroke-width="0.077" >1</text>
<text transform="translate(78.34,335.30) scale(0.9091,1)" font-size="4.18" fill="#3a3a9e" text-anchor="middle" stroke="#3a3a9e" stroke-width="0.077" >0</text>
<text transform="translate(101.36,335.30) scale(0.9091,1)" font-size="4.18" fill="#3a3a9e" text-anchor="middle" stroke="#3a3a9e" stroke-width="0.077" >0</text>
<text transform="translate(124.38,335.30) scale(0.9091,1)" font-size="4.18" fill="#3a3a9e" text-anchor="middle" stroke="#3a3a9e" stroke-width="0.077" >0</text>
<text transform="translate(147.40,335.30) scale(0.9091,1)" font-size="4.18" fill="#3a3a9e" text-anchor="middle" stroke="#3a3a9e" stroke-width="0.077" >0</text>
<line x1="115.80" y1="206.20" x2="121.70" y2="206.20" stroke="#888888" stroke-width="1.6"/>
<text transform="translate(123.80,207.80) scale(0.9091,1)" font-size="5.06" fill="#888888" stroke="#888888" stroke-width="0.066" >≤3 lesions</text>
<line x1="115.80" y1="212.30" x2="121.70" y2="212.30" stroke="#1ab0ee" stroke-width="1.6"/>
<text transform="translate(123.80,213.90) scale(0.9091,1)" font-size="5.06" fill="#1ab0ee" stroke="#1ab0ee" stroke-width="0.066" >4-5 lesions</text>
<line x1="115.80" y1="218.20" x2="121.70" y2="218.20" stroke="#3a3a9e" stroke-width="1.6"/>
<text transform="translate(123.80,219.80) scale(0.9091,1)" font-size="5.06" fill="#3a3a9e" stroke="#3a3a9e" stroke-width="0.066" >≥6 lesions</text>
<polyline points="40.62,203.40 41.75,205.10 43.12,209.30 45.37,211.10 46.88,214.70 48.38,215.30 48.38,219.40 54.38,219.40 54.38,224.20 66.25,224.20 67.00,236.00 76.12,236.00 76.62,246.40 181.75,246.40" fill="none" stroke="#888888" stroke-width="1.35" stroke-linejoin="miter" transform="scale(0.8,1)"/>
<path d="M42.50,205.10V208.90M40.37,207.00H44.62M46.25,211.10V214.90M44.12,213.00H48.38M56.62,222.30V226.10M54.50,224.20H58.75M61.00,222.30V226.10M58.87,224.20H63.12M65.50,222.30V226.10M63.37,224.20H67.62M68.75,234.10V237.90M66.62,236.00H70.88M72.50,234.10V237.90M70.37,236.00H74.62M123.00,244.50V248.30M120.88,246.40H125.12M141.75,244.50V248.30M139.62,246.40H143.88M143.00,244.50V248.30M140.88,246.40H145.12M149.25,244.50V248.30M147.12,246.40H151.38M181.00,244.50V248.30M178.88,246.40H183.12" stroke="#888888" stroke-width="1.2" fill="none" transform="scale(0.8,1)"/>
<polyline points="40.62,203.40 41.00,206.30 42.50,211.10 43.88,215.90 45.37,221.80 46.88,229.00 47.62,232.50 48.38,233.10 55.50,233.10 56.75,234.90 58.00,239.70 59.12,246.50 60.37,251.00 83.25,251.00 83.50,254.70 86.50,255.40 86.88,259.70 160.62,259.70" fill="none" stroke="#1ab0ee" stroke-width="1.5" stroke-linejoin="miter" transform="scale(0.8,1)"/>
<path d="M41.88,207.10V210.90M39.75,209.00H44.00M45.00,217.10V220.90M42.87,219.00H47.12M55.50,231.20V235.00M53.37,233.10H57.62M57.37,234.10V237.90M55.25,236.00H59.50M59.38,245.10V248.90M57.25,247.00H61.50M83.50,252.10V255.90M81.37,254.00H85.62M86.88,257.80V261.60M84.75,259.70H89.00M90.62,257.80V261.60M88.50,259.70H92.75M94.38,257.80V261.60M92.25,259.70H96.50M121.37,257.80V261.60M119.25,259.70H123.50M144.75,257.80V261.60M142.62,259.70H146.88M148.12,257.80V261.60M146.00,259.70H150.25M150.25,257.80V261.60M148.12,259.70H152.38M159.12,257.80V261.60M157.00,259.70H161.25" stroke="#1ab0ee" stroke-width="1.3" fill="none" transform="scale(0.8,1)"/>
<polyline points="41.00,203.40 42.50,205.10 43.12,209.90 43.88,221.80 44.62,233.70 45.12,241.70 45.88,255.20 47.62,257.10 49.00,266.80 49.25,277.60 50.37,277.60 50.62,282.00 51.75,282.50 52.00,287.00 54.25,287.40 54.50,291.90 87.38,291.90" fill="none" stroke="#3a3a9e" stroke-width="1.5" stroke-linejoin="miter" transform="scale(0.8,1)"/>
<path d="M41.88,202.10V205.90M39.75,204.00H44.00M43.25,211.10V214.90M41.12,213.00H45.38M44.00,222.10V225.90M41.88,224.00H46.13M45.37,244.10V247.90M43.25,246.00H47.50M46.88,254.10V257.90M44.75,256.00H49.00M49.12,266.10V269.90M47.00,268.00H51.25M85.75,290.00V293.80M83.62,291.90H87.87" stroke="#3a3a9e" stroke-width="1.3" fill="none" transform="scale(0.8,1)"/>
<text transform="translate(0.20,187.30) scale(1.0000,1)" font-size="12.70" fill="#000" font-weight="bold" >E</text>
<text transform="translate(86.25,190.80) scale(0.9091,1)" font-size="10.12" fill="#000" text-anchor="middle" font-weight="bold" >Number of Organ Involvement</text>
<text transform="translate(88.00,233.80) scale(0.9091,1)" font-size="6.88" fill="#111" stroke="#111" stroke-width="0.13"><tspan font-style="italic">P</tspan>&lt;0.001</text>
<path d="M205.40,195.00V300.40H326.90" stroke="#656565" stroke-width="1" fill="none"/>
<text transform="translate(200.80,297.75) scale(0.9091,1)" font-size="4.18" fill="#444" text-anchor="end" >0.0</text>
<text transform="translate(200.80,278.19) scale(0.9091,1)" font-size="4.18" fill="#444" text-anchor="end" >0.2</text>
<text transform="translate(200.80,258.63) scale(0.9091,1)" font-size="4.18" fill="#444" text-anchor="end" >0.4</text>
<text transform="translate(200.80,239.07) scale(0.9091,1)" font-size="4.18" fill="#444" text-anchor="end" >0.6</text>
<text transform="translate(200.80,219.51) scale(0.9091,1)" font-size="4.18" fill="#444" text-anchor="end" >0.8</text>
<text transform="translate(200.80,199.95) scale(0.9091,1)" font-size="4.18" fill="#444" text-anchor="end" >1.0</text>
<text transform="translate(210.30,308.15) scale(0.9091,1)" font-size="4.18" fill="#444" text-anchor="middle" >0</text>
<text transform="translate(233.22,308.15) scale(0.9091,1)" font-size="4.18" fill="#444" text-anchor="middle" >50</text>
<text transform="translate(256.14,308.15) scale(0.9091,1)" font-size="4.18" fill="#444" text-anchor="middle" >100</text>
<text transform="translate(279.06,308.15) scale(0.9091,1)" font-size="4.18" fill="#444" text-anchor="middle" >150</text>
<text transform="translate(301.98,308.15) scale(0.9091,1)" font-size="4.18" fill="#444" text-anchor="middle" >200</text>
<text transform="translate(324.90,308.15) scale(0.9091,1)" font-size="4.18" fill="#444" text-anchor="middle" >250</text>
<path d="M202.90,296.40H205.40M202.90,276.84H205.40M202.90,257.28H205.40M202.90,237.72H205.40M202.90,218.16H205.40M202.90,198.60H205.40M210.30,300.40V302.90M233.22,300.40V302.90M256.14,300.40V302.90M279.06,300.40V302.90M301.98,300.40V302.90M324.90,300.40V302.90" stroke="#6a6a6a" stroke-width="0.8" fill="none"/>
<text transform="translate(268.70,314.80) scale(0.9091,1)" font-size="5.19" fill="#111" text-anchor="middle" stroke="#111" stroke-width="0.143" >Months post treatment start</text>
<text x="0" y="0" font-size="4.6" fill="#222" stroke="#222" stroke-width="0.08" text-anchor="middle" transform="translate(192.80,245.50) rotate(-90)">Probability</text>
<text transform="translate(205.50,319.60) scale(0.9091,1)" font-size="4.15" fill="#111" stroke="#111" stroke-width="0.077" >Number at risk</text>
<text transform="translate(203.90,326.90) scale(0.9091,1)" font-size="4.18" fill="#222" text-anchor="end" stroke="#222" stroke-width="0.077" >Risk Organ(−)</text>
<text transform="translate(210.30,326.90) scale(0.9091,1)" font-size="4.18" fill="#222" text-anchor="middle" stroke="#222" stroke-width="0.077" >39</text>
<text transform="translate(233.22,326.90) scale(0.9091,1)" font-size="4.18" fill="#222" text-anchor="middle" stroke="#222" stroke-width="0.077" >17</text>
<text transform="translate(256.14,326.90) scale(0.9091,1)" font-size="4.18" fill="#222" text-anchor="middle" stroke="#222" stroke-width="0.077" >9</text>
<text transform="translate(279.06,326.90) scale(0.9091,1)" font-size="4.18" fill="#222" text-anchor="middle" stroke="#222" stroke-width="0.077" >5</text>
<text transform="translate(301.98,326.90) scale(0.9091,1)" font-size="4.18" fill="#222" text-anchor="middle" stroke="#222" stroke-width="0.077" >2</text>
<text transform="translate(324.90,326.90) scale(0.9091,1)" font-size="4.18" fill="#222" text-anchor="middle" stroke="#222" stroke-width="0.077" >0</text>
<text transform="translate(203.90,331.50) scale(0.9091,1)" font-size="4.18" fill="#f03a4a" text-anchor="end" stroke="#f03a4a" stroke-width="0.077" >Risk Organ(+)</text>
<text transform="translate(210.30,331.50) scale(0.9091,1)" font-size="4.18" fill="#f03a4a" text-anchor="middle" stroke="#f03a4a" stroke-width="0.077" >67</text>
<text transform="translate(233.22,331.50) scale(0.9091,1)" font-size="4.18" fill="#f03a4a" text-anchor="middle" stroke="#f03a4a" stroke-width="0.077" >7</text>
<text transform="translate(256.14,331.50) scale(0.9091,1)" font-size="4.18" fill="#f03a4a" text-anchor="middle" stroke="#f03a4a" stroke-width="0.077" >3</text>
<text transform="translate(279.06,331.50) scale(0.9091,1)" font-size="4.18" fill="#f03a4a" text-anchor="middle" stroke="#f03a4a" stroke-width="0.077" >3</text>
<text transform="translate(301.98,331.50) scale(0.9091,1)" font-size="4.18" fill="#f03a4a" text-anchor="middle" stroke="#f03a4a" stroke-width="0.077" >0</text>
<text transform="translate(324.90,331.50) scale(0.9091,1)" font-size="4.18" fill="#f03a4a" text-anchor="middle" stroke="#f03a4a" stroke-width="0.077" >0</text>
<line x1="284.10" y1="207.90" x2="290.00" y2="207.90" stroke="#333" stroke-width="1.8"/>
<text transform="translate(291.90,209.50) scale(0.9091,1)" font-size="5.06" fill="#222" stroke="#222" stroke-width="0.132" >Risk Organ(−)</text>
<line x1="284.10" y1="214.40" x2="290.00" y2="214.40" stroke="#ee3b33" stroke-width="1.8"/>
<text transform="translate(291.90,216.00) scale(0.9091,1)" font-size="5.06" fill="#ee3b33" stroke="#ee3b33" stroke-width="0.066" >Risk Organ(+)</text>
<polyline points="263.50,198.60 264.25,200.40 266.38,202.80 267.88,205.10 269.38,208.70 270.87,209.90 271.62,213.50 272.38,215.30 274.62,217.00 276.12,219.40 277.62,221.20 277.62,225.40 278.37,227.80 279.88,230.10 282.00,231.30 288.00,231.30 289.38,232.00 290.12,237.80 296.25,237.80 299.75,241.70 307.12,241.70 308.25,246.40 327.12,246.40 327.12,252.30 405.38,252.30" fill="none" stroke="#111" stroke-width="1.5" stroke-linejoin="miter" transform="scale(0.8,1)"/>
<path d="M263.75,197.10V200.90M261.62,199.00H265.87M265.62,200.10V203.90M263.50,202.00H267.75M268.75,205.10V208.90M266.62,207.00H270.87M271.25,210.10V213.90M269.12,212.00H273.37M273.75,215.10V218.90M271.62,217.00H275.87M276.88,218.10V221.90M274.75,220.00H279.00M278.75,226.10V229.90M276.62,228.00H280.87M282.50,229.40V233.20M280.38,231.30H284.62M286.25,229.40V233.20M284.12,231.30H288.37M293.75,235.90V239.70M291.62,237.80H295.87M297.50,235.90V239.70M295.38,237.80H299.62M305.00,239.80V243.60M302.88,241.70H307.12M309.25,244.50V248.30M307.12,246.40H311.38M317.12,244.50V248.30M315.00,246.40H319.25M338.88,250.40V254.20M336.75,252.30H341.00M343.88,250.40V254.20M341.75,252.30H346.00M345.12,250.40V254.20M343.00,252.30H347.25M364.87,250.40V254.20M362.75,252.30H367.00M371.50,250.40V254.20M369.38,252.30H373.62M381.25,250.40V254.20M379.12,252.30H383.37M403.37,250.40V254.20M401.25,252.30H405.50" stroke="#111" stroke-width="1.3" fill="none" transform="scale(0.8,1)"/>
<polyline points="263.50,198.60 264.25,204.00 265.00,211.10 265.62,219.40 266.38,226.60 267.12,232.00 267.62,237.80 268.37,247.50 269.62,253.30 272.00,261.00 275.62,266.80 279.25,268.80 281.62,272.60 284.12,276.50 286.50,278.00 304.62,278.00 305.87,281.30 375.25,281.30" fill="none" stroke="#cf5074" stroke-width="1.5" stroke-linejoin="miter" transform="scale(0.8,1)"/>
<path d="M263.75,199.10V202.90M261.62,201.00H265.87M264.38,204.10V207.90M262.25,206.00H266.50M265.00,209.10V212.90M262.88,211.00H267.12M265.38,214.10V217.90M263.25,216.00H267.50M265.87,218.10V221.90M263.75,220.00H268.00M266.50,224.10V227.90M264.38,226.00H268.62M267.25,231.10V234.90M265.12,233.00H269.38M268.12,243.10V246.90M266.00,245.00H270.25M268.75,248.10V251.90M266.62,250.00H270.87M276.25,265.10V268.90M274.12,267.00H278.37M278.75,266.60V270.40M276.62,268.50H280.87M280.62,269.10V272.90M278.50,271.00H282.75M283.12,272.60V276.40M281.00,274.50H285.25M291.25,276.10V279.90M289.12,278.00H293.37M305.62,279.40V283.20M303.50,281.30H307.75M313.00,279.40V283.20M310.88,281.30H315.12M366.50,279.40V283.20M364.38,281.30H368.62M370.75,279.40V283.20M368.62,281.30H372.88M372.88,279.40V283.20M370.75,281.30H375.00" stroke="#cf5074" stroke-width="1.3" fill="none" transform="scale(0.8,1)"/>
<text transform="translate(178.50,187.30) scale(1.0000,1)" font-size="12.70" fill="#000" font-weight="bold" >F</text>
<text transform="translate(260.95,191.10) scale(0.9091,1)" font-size="10.12" fill="#000" text-anchor="middle" font-weight="bold" >Risk organ</text>
<text transform="translate(275.00,242.60) scale(0.9091,1)" font-size="6.88" fill="#111" stroke="#111" stroke-width="0.13"><tspan font-style="italic">P</tspan>&lt;0.001</text>
<path d="M384.30,199.50V300.40H505.50" stroke="#656565" stroke-width="1" fill="none"/>
<text transform="translate(379.70,297.75) scale(0.9091,1)" font-size="4.18" fill="#444" text-anchor="end" >0.0</text>
<text transform="translate(379.70,279.13) scale(0.9091,1)" font-size="4.18" fill="#444" text-anchor="end" >0.2</text>
<text transform="translate(379.70,260.51) scale(0.9091,1)" font-size="4.18" fill="#444" text-anchor="end" >0.4</text>
<text transform="translate(379.70,241.89) scale(0.9091,1)" font-size="4.18" fill="#444" text-anchor="end" >0.6</text>
<text transform="translate(379.70,223.27) scale(0.9091,1)" font-size="4.18" fill="#444" text-anchor="end" >0.8</text>
<text transform="translate(379.70,204.65) scale(0.9091,1)" font-size="4.18" fill="#444" text-anchor="end" >1.0</text>
<text transform="translate(388.40,308.15) scale(0.9091,1)" font-size="4.18" fill="#444" text-anchor="middle" >0</text>
<text transform="translate(411.42,308.15) scale(0.9091,1)" font-size="4.18" fill="#444" text-anchor="middle" >50</text>
<text transform="translate(434.44,308.15) scale(0.9091,1)" font-size="4.18" fill="#444" text-anchor="middle" >100</text>
<text transform="translate(457.46,308.15) scale(0.9091,1)" font-size="4.18" fill="#444" text-anchor="middle" >150</text>
<text transform="translate(480.48,308.15) scale(0.9091,1)" font-size="4.18" fill="#444" text-anchor="middle" >200</text>
<text transform="translate(503.50,308.15) scale(0.9091,1)" font-size="4.18" fill="#444" text-anchor="middle" >250</text>
<path d="M381.80,296.40H384.30M381.80,277.78H384.30M381.80,259.16H384.30M381.80,240.54H384.30M381.80,221.92H384.30M381.80,203.30H384.30M388.40,300.40V302.90M411.42,300.40V302.90M434.44,300.40V302.90M457.46,300.40V302.90M480.48,300.40V302.90M503.50,300.40V302.90" stroke="#6a6a6a" stroke-width="0.8" fill="none"/>
<text transform="translate(446.80,314.80) scale(0.9091,1)" font-size="5.19" fill="#111" text-anchor="middle" stroke="#111" stroke-width="0.143" >Months post treatment start</text>
<text x="0" y="0" font-size="4.6" fill="#222" stroke="#222" stroke-width="0.08" text-anchor="middle" transform="translate(371.70,248.25) rotate(-90)">Probability</text>
<text transform="translate(384.00,319.90) scale(0.9091,1)" font-size="4.15" fill="#111" stroke="#111" stroke-width="0.077" >Number at risk</text>
<text transform="translate(367.00,326.40) scale(0.9091,1)" font-size="4.18" fill="#666" stroke="#666" stroke-width="0.077" >Score 0</text>
<text transform="translate(388.40,326.40) scale(0.9091,1)" font-size="4.18" fill="#666" text-anchor="middle" stroke="#666" stroke-width="0.077" >39</text>
<text transform="translate(411.42,326.40) scale(0.9091,1)" font-size="4.18" fill="#666" text-anchor="middle" stroke="#666" stroke-width="0.077" >17</text>
<text transform="translate(434.44,326.40) scale(0.9091,1)" font-size="4.18" fill="#666" text-anchor="middle" stroke="#666" stroke-width="0.077" >9</text>
<text transform="translate(457.46,326.40) scale(0.9091,1)" font-size="4.18" fill="#666" text-anchor="middle" stroke="#666" stroke-width="0.077" >5</text>
<text transform="translate(480.48,326.40) scale(0.9091,1)" font-size="4.18" fill="#666" text-anchor="middle" stroke="#666" stroke-width="0.077" >2</text>
<text transform="translate(503.50,326.40) scale(0.9091,1)" font-size="4.18" fill="#666" text-anchor="middle" stroke="#666" stroke-width="0.077" >0</text>
<text transform="translate(367.00,330.80) scale(0.9091,1)" font-size="4.18" fill="#1ab0ee" stroke="#1ab0ee" stroke-width="0.077" >Score 1</text>
<text transform="translate(388.40,330.80) scale(0.9091,1)" font-size="4.18" fill="#1ab0ee" text-anchor="middle" stroke="#1ab0ee" stroke-width="0.077" >37</text>
<text transform="translate(411.42,330.80) scale(0.9091,1)" font-size="4.18" fill="#1ab0ee" text-anchor="middle" stroke="#1ab0ee" stroke-width="0.077" >6</text>
<text transform="translate(434.44,330.80) scale(0.9091,1)" font-size="4.18" fill="#1ab0ee" text-anchor="middle" stroke="#1ab0ee" stroke-width="0.077" >3</text>
<text transform="translate(457.46,330.80) scale(0.9091,1)" font-size="4.18" fill="#1ab0ee" text-anchor="middle" stroke="#1ab0ee" stroke-width="0.077" >0</text>
<text transform="translate(480.48,330.80) scale(0.9091,1)" font-size="4.18" fill="#1ab0ee" text-anchor="middle" stroke="#1ab0ee" stroke-width="0.077" >0</text>
<text transform="translate(503.50,330.80) scale(0.9091,1)" font-size="4.18" fill="#1ab0ee" text-anchor="middle" stroke="#1ab0ee" stroke-width="0.077" >0</text>
<text transform="translate(367.00,335.50) scale(0.9091,1)" font-size="4.18" fill="#3a3a9e" stroke="#3a3a9e" stroke-width="0.077" >Score ≥2</text>
<text transform="translate(388.40,335.50) scale(0.9091,1)" font-size="4.18" fill="#3a3a9e" text-anchor="middle" stroke="#3a3a9e" stroke-width="0.077" >30</text>
<text transform="translate(411.42,335.50) scale(0.9091,1)" font-size="4.18" fill="#3a3a9e" text-anchor="middle" stroke="#3a3a9e" stroke-width="0.077" >1</text>
<text transform="translate(434.44,335.50) scale(0.9091,1)" font-size="4.18" fill="#3a3a9e" text-anchor="middle" stroke="#3a3a9e" stroke-width="0.077" >0</text>
<text transform="translate(457.46,335.50) scale(0.9091,1)" font-size="4.18" fill="#3a3a9e" text-anchor="middle" stroke="#3a3a9e" stroke-width="0.077" >0</text>
<text transform="translate(480.48,335.50) scale(0.9091,1)" font-size="4.18" fill="#3a3a9e" text-anchor="middle" stroke="#3a3a9e" stroke-width="0.077" >0</text>
<text transform="translate(503.50,335.50) scale(0.9091,1)" font-size="4.18" fill="#3a3a9e" text-anchor="middle" stroke="#3a3a9e" stroke-width="0.077" >0</text>
<line x1="471.80" y1="205.40" x2="478.00" y2="205.40" stroke="#888888" stroke-width="1.6"/>
<text transform="translate(480.20,207.00) scale(0.9091,1)" font-size="5.06" fill="#888888" stroke="#888888" stroke-width="0.066" >Score 0</text>
<line x1="471.80" y1="211.80" x2="478.00" y2="211.80" stroke="#1ab0ee" stroke-width="1.6"/>
<text transform="translate(480.20,213.40) scale(0.9091,1)" font-size="5.06" fill="#1ab0ee" stroke="#1ab0ee" stroke-width="0.066" >Score 1</text>
<line x1="471.80" y1="217.90" x2="478.00" y2="217.90" stroke="#3a3a9e" stroke-width="1.6"/>
<text transform="translate(480.20,219.50) scale(0.9091,1)" font-size="5.06" fill="#3a3a9e" stroke="#3a3a9e" stroke-width="0.066" >Score ≥2</text>
<polyline points="486.75,203.00 488.12,204.80 490.75,208.10 493.25,212.10 493.88,218.70 497.00,220.20 498.88,221.70 500.25,223.30 500.25,227.80 502.12,229.30 503.12,231.50 503.62,234.10 512.88,234.10 512.88,240.50 522.00,240.50 522.00,244.30 532.37,244.30 532.37,249.20 549.12,249.20 549.12,254.20 628.12,254.20" fill="none" stroke="#888888" stroke-width="1.35" stroke-linejoin="miter" transform="scale(0.8,1)"/>
<path d="M489.38,204.10V207.90M487.25,206.00H491.50M492.50,209.10V212.90M490.38,211.00H494.62M494.12,213.10V216.90M492.00,215.00H496.25M497.50,218.60V222.40M495.38,220.50H499.62M500.25,223.10V226.90M498.12,225.00H502.37M507.25,232.20V236.00M505.12,234.10H509.38M511.75,232.20V236.00M509.62,234.10H513.87M516.75,238.60V242.40M514.62,240.50H518.87M521.25,238.60V242.40M519.12,240.50H523.38M530.12,242.40V246.20M528.00,244.30H532.25M532.88,247.30V251.10M530.75,249.20H535.00M540.12,247.30V251.10M538.00,249.20H542.25M561.88,252.30V256.10M559.75,254.20H564.00M566.88,252.30V256.10M564.75,254.20H569.00M568.75,252.30V256.10M566.62,254.20H570.88M588.62,252.30V256.10M586.50,254.20H590.75M595.12,252.30V256.10M593.00,254.20H597.25M604.62,252.30V256.10M602.50,254.20H606.75M626.38,252.30V256.10M624.25,254.20H628.50" stroke="#888888" stroke-width="1.2" fill="none" transform="scale(0.8,1)"/>
<polyline points="486.75,203.00 487.50,204.80 488.88,209.50 490.38,215.50 491.88,223.80 492.62,229.80 494.12,233.30 495.00,235.90 496.12,244.20 498.50,251.60 501.88,252.50 504.25,255.30 505.38,265.40 508.88,267.30 511.12,270.10 528.38,270.10 529.62,275.50 598.50,275.50" fill="none" stroke="#1ab0ee" stroke-width="1.5" stroke-linejoin="miter" transform="scale(0.8,1)"/>
<path d="M488.12,205.10V208.90M486.00,207.00H490.25M490.00,211.10V214.90M487.88,213.00H492.12M493.75,230.10V233.90M491.62,232.00H495.87M495.62,238.10V241.90M493.50,240.00H497.75M501.88,250.60V254.40M499.75,252.50H504.00M503.75,252.60V256.40M501.62,254.50H505.87M507.50,265.10V268.90M505.38,267.00H509.62M514.62,268.20V272.00M512.50,270.10H516.75M536.50,273.60V277.40M534.38,275.50H538.62M590.50,273.60V277.40M588.38,275.50H592.62M594.75,273.60V277.40M592.62,275.50H596.88M596.62,273.60V277.40M594.50,275.50H598.75" stroke="#1ab0ee" stroke-width="1.3" fill="none" transform="scale(0.8,1)"/>
<polyline points="486.75,203.00 487.50,208.30 488.12,214.30 488.88,225.60 489.25,240.00 489.62,253.50 490.38,268.20 491.50,274.70 492.62,275.60 494.25,284.80 498.50,285.70 499.62,289.40 533.75,289.40" fill="none" stroke="#3a3a9e" stroke-width="1.5" stroke-linejoin="miter" transform="scale(0.8,1)"/>
<path d="M486.88,204.10V207.90M484.75,206.00H489.00M487.88,210.10V213.90M485.75,212.00H490.00M488.75,222.10V225.90M486.62,224.00H490.87M489.38,234.10V237.90M487.25,236.00H491.50M498.50,283.80V287.60M496.38,285.70H500.62M500.00,287.50V291.30M497.88,289.40H502.12M531.88,287.50V291.30M529.75,289.40H534.00" stroke="#3a3a9e" stroke-width="1.3" fill="none" transform="scale(0.8,1)"/>
<text transform="translate(356.70,187.50) scale(1.0000,1)" font-size="12.70" fill="#000" font-weight="bold" >G</text>
<text transform="translate(446.15,191.00) scale(0.9091,1)" font-size="10.12" fill="#000" text-anchor="middle" font-weight="bold" >Risk organ index</text>
<text transform="translate(456.80,240.60) scale(0.9091,1)" font-size="6.88" fill="#111" stroke="#111" stroke-width="0.13"><tspan font-style="italic">P</tspan>&lt;0.001</text>
</svg>
</body></html>
